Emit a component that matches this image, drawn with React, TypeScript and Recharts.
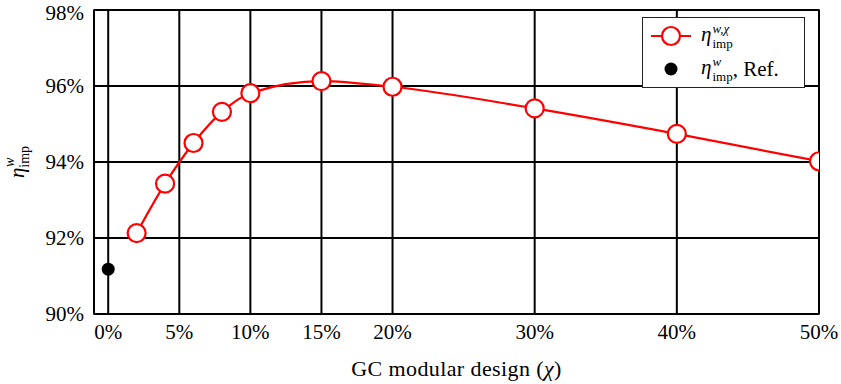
import {
  CartesianGrid,
  ComposedChart,
  Legend,
  Line,
  ReferenceArea,
  Scatter,
  XAxis,
  YAxis,
} from "recharts";

const designShare = [2, 4, 6, 8, 10, 15, 20, 30, 40, 50];
const efficiency = [92.13, 93.43, 94.5, 95.32, 95.81, 96.13, 95.98, 95.41, 94.74, 94.02];
const refShare = [0];
const refEfficiency = [91.18];
const xTicks = [0, 5, 10, 15, 20, 30, 40, 50];
const yTicks = [90, 92, 94, 96, 98];

const curveData = designShare.map((x, i) => ({ x, eta: efficiency[i] }));
const refData = refShare.map((x, i) => ({ x, eta: refEfficiency[i] }));

const FONT = "'Liberation Serif', 'DejaVu Serif', serif";
const RED = "#ff0000";

const pct = (v: number) => `${v}%`;

function OpenMarker(props: any) {
  const { cx, cy } = props;
  if (cx == null || cy == null) return null;
  return <circle cx={cx} cy={cy} r={9} fill="#fff" stroke={RED} strokeWidth={2.2} />;
}

function RefMarker(props: any) {
  const { cx, cy } = props;
  return <circle cx={cx} cy={cy} r={6.5} fill="#000" />;
}

// η with stacked super/subscript, e.g. η^{w,χ}_{imp}
function Eta({ sup }: { sup: string }) {
  return (
    <span style={{ whiteSpace: "nowrap" }}>
      <span style={{ fontStyle: "italic", fontSize: 21 }}>η</span>
      <span
        style={{
          display: "inline-flex",
          flexDirection: "column",
          fontSize: 13,
          lineHeight: "15px",
          verticalAlign: "8px",
          marginLeft: 1,
        }}
      >
        <span style={{ fontStyle: "italic" }}>{sup}</span>
        <span>imp</span>
      </span>
    </span>
  );
}

function LegendBox() {
  return (
    <div
      style={{
        border: "1px solid #222",
        background: "#fff",
        padding: "3px 10px 3px 8px",
        fontFamily: FONT,
        color: "#000",
        width: 143,
      }}
    >
      <div style={{ display: "flex", alignItems: "center", height: 30 }}>
        <svg width={42} height={24} style={{ marginRight: 8 }}>
          <line x1={0} y1={12} x2={40} y2={12} stroke={RED} strokeWidth={2.2} />
          <circle cx={20} cy={12} r={9} fill="#fff" stroke={RED} strokeWidth={2.2} />
        </svg>
        <Eta sup="w,χ" />
      </div>
      <div style={{ display: "flex", alignItems: "center", height: 30, marginTop: 3 }}>
        <svg width={42} height={24} style={{ marginRight: 8 }}>
          <circle cx={20} cy={12} r={6.5} fill="#000" />
        </svg>
        <Eta sup="w" />
        <span style={{ fontSize: 21 }}>, Ref.</span>
      </div>
    </div>
  );
}

function YTitle(props: any) {
  const { viewBox } = props;
  const cx = 18;
  const cy = viewBox.y + viewBox.height / 2;
  return (
    <text
      transform={`translate(${cx},${cy}) rotate(-90)`}
      textAnchor="middle"
      fontFamily={FONT}
      fill="#000"
    >
      <tspan fontStyle="italic" fontSize={21} dy={6}>η</tspan>
      <tspan fontSize={14} dy={5}>imp</tspan>
      <tspan fontSize={14} fontStyle="italic" dx={-21} dy={-15}>w</tspan>
    </text>
  );
}

function XTitle(props: any) {
  const { viewBox } = props;
  const cx = viewBox.x + viewBox.width / 2;
  return (
    <text
      x={cx}
      y={376}
      textAnchor="middle"
      fontFamily={FONT}
      fontSize={22}
      letterSpacing={0.4}
      fill="#000"
    >
      GC modular design (<tspan fontStyle="italic">χ</tspan>)
    </text>
  );
}

export default function App() {
  const tickStyle = { fontSize: 21, fill: "#000", fontFamily: FONT };
  return (
    <div style={{ position: "absolute", left: 0, top: 0, background: "#fff" }}>
      <ComposedChart
        width={841}
        height={384}
        margin={{ top: 10, right: 22, bottom: 0, left: 0 }}
      >
        <CartesianGrid stroke="#000" strokeWidth={2} />
        <XAxis
          type="number"
          dataKey="x"
          domain={[-1, 50]}
          ticks={xTicks}
          tickFormatter={pct}
          tick={tickStyle}
          tickSize={0}
          tickMargin={10}
          axisLine={false}
          height={70}
          allowDataOverflow
          label={<XTitle />}
        />
        <YAxis
          type="number"
          domain={[90, 98]}
          ticks={yTicks}
          tickFormatter={pct}
          tick={tickStyle}
          tickSize={0}
          tickMargin={10}
          axisLine={false}
          width={94}
          label={<YTitle />}
        />
        <ReferenceArea
          x1={-1}
          x2={50}
          y1={90}
          y2={98}
          fill="none"
          stroke="#000"
          strokeWidth={1.6}
          ifOverflow="visible"
        />
        <Line
          data={curveData}
          dataKey="eta"
          type="monotone"
          stroke={RED}
          strokeWidth={2.2}
          dot={<OpenMarker />}
          activeDot={false}
          isAnimationActive={false}
        />
        <Scatter
          data={refData}
          dataKey="eta"
          shape={<RefMarker />}
          isAnimationActive={false}
        />
        <Legend
          layout="horizontal"
          verticalAlign="middle"
          align="center"
          content={() => <LegendBox />}
          wrapperStyle={{ top: 17, left: 642, width: "auto" }}
        />
      </ComposedChart>
    </div>
  );
}
